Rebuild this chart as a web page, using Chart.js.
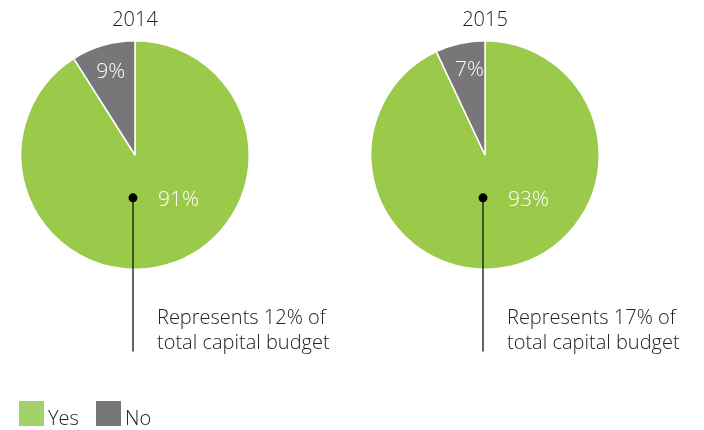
<!DOCTYPE html>
<html><head><meta charset="utf-8">
<script src="https://cdn.jsdelivr.net/npm/chart.js@4"></script>
<style>
html,body{margin:0;padding:0;background:#fff;width:704px;height:430px;overflow:hidden}
.w{position:absolute;top:0;width:350px;height:430px}
</style></head><body>
<div class="w" style="left:0"><canvas id="c1"></canvas></div>
<div class="w" style="left:350px"><canvas id="c2"></canvas></div>
<script>
const categories = ["Yes", "No"];
const years = ["2014", "2015"];
const values2014 = [91, 9];
const values2015 = [93, 7];
const budgetShare = ["12%", "17%"];
const colors = ["#9BCA4B", "#777678"];
const FONT = "'Open Sans', sans-serif";

function makePlugin(idx) {
  return {
    id: 'deco' + idx,
    afterDatasetsDraw(chart) {
      const ctx = chart.ctx;
      const arcs = chart.getDatasetMeta(0).data;
      const a0 = arcs[0];
      const cx = a0.x, cy = a0.y, R = a0.outerRadius;
      const vals = chart.data.datasets[0].data;
      ctx.save();
      // title
      ctx.fillStyle = '#222';
      ctx.font = '300 20px ' + FONT;
      ctx.textAlign = 'center'; ctx.textBaseline = 'middle';
      ctx.fillText(years[idx], cx, cy - R - 20);
      // small slice label
      const a1 = arcs[1];
      const mid = (a1.startAngle + a1.endAngle) / 2;
      ctx.fillStyle = '#fff';
      ctx.font = '300 21px ' + FONT;
      const rr = R * 0.76;
      ctx.fillText(vals[1] + '%', cx + Math.cos(mid) * rr * (idx ? 0.82 : 1.0) , cy + Math.sin(mid) * rr);
      // big slice label
      ctx.fillText(vals[0] + '%', cx + R * 0.38, cy + R * 0.39);
      // dot + line
      const dx = cx - 2, dy = cy + R * 0.375;
      ctx.strokeStyle = '#111'; ctx.lineWidth = 1.3;
      ctx.beginPath(); ctx.moveTo(dx, dy); ctx.lineTo(dx, cy + R * 1.72); ctx.stroke();
      ctx.fillStyle = '#000';
      ctx.beginPath(); ctx.arc(dx, dy, 4.5, 0, Math.PI * 2); ctx.fill();
      // annotation text
      ctx.fillStyle = '#222';
      ctx.font = '300 20px ' + FONT;
      ctx.textAlign = 'left';
      ctx.fillText('Represents ' + budgetShare[idx] + ' of', cx + 22, cy + R * 1.43);
      ctx.fillText('total capital budget', cx + 22, cy + R * 1.65);
      // legend
      if (idx === 0) {
        const ly = 401, sz = 25;
        let lx = 19;
        ctx.font = '300 20px ' + FONT;
        ctx.textBaseline = 'alphabetic';
        categories.forEach((c, i) => {
          ctx.fillStyle = i === 0 ? '#A3D16A' : colors[1];
          ctx.fillRect(lx, ly, sz, sz);
          ctx.fillStyle = '#222';
          ctx.fillText(c, lx + sz + 4, ly + sz - 1);
          lx += 77;
        });
      }
      ctx.restore();
    }
  };
}

function make(id, data, idx) {
  return new Chart(document.getElementById(id), {
    type: 'pie',
    data: { labels: categories, datasets: [{ data: data, backgroundColor: colors, borderColor: '#fff', borderWidth: 1.5 }] },
    options: {
      responsive: true, maintainAspectRatio: false, animation: false,
      layout: { padding: { left: 20, top: 40, right: 100, bottom: 160 } },
      plugins: { legend: { display: false }, tooltip: { enabled: false } }
    },
    plugins: [makePlugin(idx)]
  });
}
make('c1', values2014, 0);
make('c2', values2015, 1);
</script></body></html>
